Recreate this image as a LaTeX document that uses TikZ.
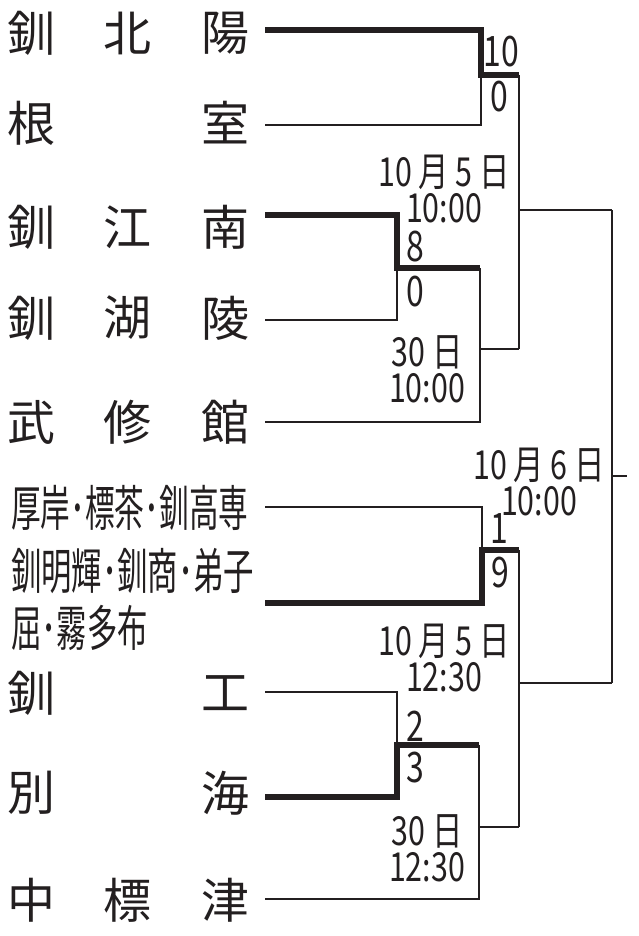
\documentclass[tikz,border=0pt]{standalone}
\usepackage{fontspec}
\usepackage{graphicx}
\newfontfamily\jpname{Noto Sans CJK JP}
\newfontfamily\jpnum[FakeStretch=0.76]{Noto Sans CJK JP}
\definecolor{ink}{RGB}{35,31,32}
\tikzset{
  thinln/.style={line width=2.6pt, line join=miter, ink},
  thickln/.style={line width=6.5pt, line join=miter, ink},
  teamname/.style={inner sep=0pt, font=\jpname\fontsize{48}{50}\selectfont, text=ink},
  smallteam/.style={inner sep=0pt, anchor=west, font=\jpname\fontsize{49}{50}\selectfont, text=ink},
  score/.style={inner sep=0pt, font=\jpnum\fontsize{42}{46}\selectfont, text=ink},
  datelbl/.style={inner sep=0pt, align=center, font=\jpnum\fontsize{40}{36}\selectfont, text=ink},
}
\begin{document}
\begin{tikzpicture}[x=1pt,y=-1pt]
\useasboundingbox (0,0) rectangle (639,936);
% team names
\node[teamname] (n1a) at (31,33) {釧};
\node[teamname] (n1b) at (127,33) {北};
\node[teamname] (n1c) at (225,33) {陽};
\node[teamname] (n2a) at (31,123) {根};
\node[teamname] (n2c) at (225,123) {室};
\node[teamname] (n3a) at (31,227) {釧};
\node[teamname] (n3b) at (127,227) {江};
\node[teamname] (n3c) at (225,227) {南};
\node[teamname] (n4a) at (31,318) {釧};
\node[teamname] (n4b) at (127,318) {湖};
\node[teamname] (n4c) at (225,318) {陵};
\node[teamname] (n5a) at (31,422) {武};
\node[teamname] (n5b) at (127,422) {修};
\node[teamname] (n5c) at (225,422) {館};
\node[smallteam] (n6) at (11,508) {\scalebox{0.605}[1]{厚岸･標茶･釧高専}};
\node[smallteam] (n7) at (11,605) {\scalebox{0.62}[1]{\begin{tabular}{@{}l@{}}釧明輝･釧商･弟子\\屈･霧多布\end{tabular}}};
\node[teamname] (n8a) at (31,693) {釧};
\node[teamname] (n8c) at (225,693) {工};
\node[teamname] (n9a) at (31,793) {別};
\node[teamname] (n9c) at (225,793) {海};
\node[teamname] (n10a) at (31,900) {中};
\node[teamname] (n10b) at (127,900) {標};
\node[teamname] (n10c) at (225,900) {津};
% line start points
\coordinate (t1) at (265,30);
\coordinate (t2) at (265,125);
\coordinate (t3) at (265,215);
\coordinate (t4) at (265,320);
\coordinate (t5) at (265,422);
\coordinate (t6) at (265,507);
\coordinate (t7) at (265,603);
\coordinate (t8) at (265,692);
\coordinate (t9) at (265,797);
\coordinate (t10) at (265,899);
% match junctions
\coordinate (m1) at (481,75);   \coordinate (m1o) at (519,75);
\coordinate (m2) at (397,268);  \coordinate (m2o) at (480,268);
\coordinate (m3o) at (480,349); \coordinate (m3e) at (519,349);
\coordinate (m4o) at (519,210); \coordinate (m4e) at (612,210);
\coordinate (m5) at (482,550);  \coordinate (m5o) at (519,550);
\coordinate (m6) at (397,745);  \coordinate (m6o) at (479,745);
\coordinate (m7o) at (479,827); \coordinate (m7e) at (519,827);
\coordinate (m8o) at (519,683); \coordinate (m8e) at (612,683);
\coordinate (fin) at (612,476); \coordinate (fine) at (627,476);
% top half
\draw[thinln] (t2) -| (m1);
\draw[thickln] (t1) -| (m1) -- (m1o);
\draw[thinln] (t4) -| (m2);
\draw[thickln] (t3) -| (m2) -- (m2o);
\draw[thinln] (t5) -| (m2o);
\draw[thinln] (m3o) -- (m3e);
\draw[thinln] (m1o) -- (m3e);
\draw[thinln] (m4o) -- (m4e);
% bottom half
\draw[thinln] (t6) -| (m5);
\draw[thickln] (t7) -| (m5) -- (m5o);
\draw[thinln] (t8) -| (m6);
\draw[thickln] (t9) -| (m6) -- (m6o);
\draw[thinln] (t10) -| (m6o);
\draw[thinln] (m7o) -- (m7e);
\draw[thinln] (m5o) -- (m7e);
\draw[thinln] (m8o) -- (m8e);
% final
\draw[thinln] (m4e) -- (m8e);
\draw[thinln] (fin) -- (fine);
% scores
\node[score] (s1a) at (501,52) {10};
\node[score] (s1b) at (499,97) {0};
\node[score] (s2a) at (415,247) {8};
\node[score] (s2b) at (415,292) {0};
\node[score] (s5a) at (499,529) {1};
\node[score] (s5b) at (500,573) {9};
\node[score] (s6a) at (415,726) {2};
\node[score] (s6b) at (415,768) {3};
% dates
\node[datelbl] (d1) at (444,189) {10\,月\,5\,日\\10:00};
\node[datelbl] (d2) at (427,369) {30\,日\\10:00};
\node[datelbl] (d3) at (539,482) {10\,月\,6\,日\\10:00};
\node[datelbl] (d4) at (444,658) {10\,月\,5\,日\\12:30};
\node[datelbl] (d5) at (427,848) {30\,日\\12:30};
\end{tikzpicture}
\end{document}
